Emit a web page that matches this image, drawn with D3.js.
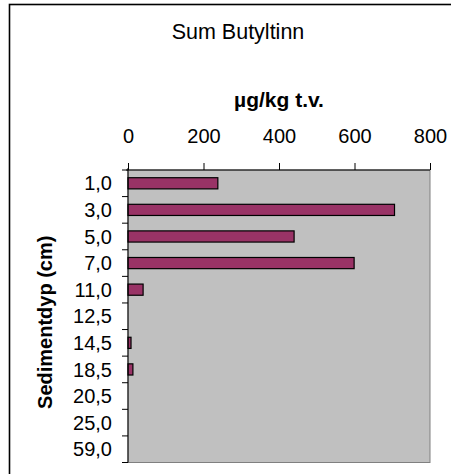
<!DOCTYPE html>
<html>
<head>
<meta charset="utf-8">
<script src="https://cdn.jsdelivr.net/npm/d3@7"></script>
<style>
  body { margin: 0; background: #fff; }
  text { font-family: "Liberation Sans", Arial, sans-serif; fill: #000; }
</style>
</head>
<body>
<script>
// depth labels (cm) and sum of butyltin values (µg/kg dry weight)
var depths = ["1,0", "3,0", "5,0", "7,0", "11,0", "12,5", "14,5", "18,5", "20,5", "25,0", "59,0"];
var values = [238, 706, 440, 599, 40, 0, 8, 13, 0, 0, 0];
var xTicks = [0, 200, 400, 600, 800];

var width = 451,
    height = 474;

var svg = d3.select("body").append("svg")
    .attr("width", width)
    .attr("height", height);

// chart frame (right and bottom run past the picture)
svg.append("rect")
    .attr("x", 9.5)
    .attr("y", 4.5)
    .attr("width", 458)
    .attr("height", 480)
    .attr("fill", "#fff")
    .attr("stroke", "#000")
    .attr("stroke-width", 1.6);

var plot = {left: 128, right: 430, top: 170, bottom: 462.5};

var x = d3.scaleLinear()
    .domain([0, 800])
    .range([plot.left, plot.right]);

var y = d3.scaleBand()
    .domain(depths)
    .range([plot.top, plot.bottom])
    .paddingInner(0.58)
    .paddingOuter(0.29);

// plot area
svg.append("rect")
    .attr("x", plot.left)
    .attr("y", plot.top)
    .attr("width", plot.right - plot.left)
    .attr("height", plot.bottom - plot.top)
    .attr("fill", "#c0c0c0")
    .attr("stroke", "#808080")
    .attr("stroke-width", 1);

// bars
svg.append("g")
    .selectAll("rect")
    .data(values)
    .enter()
    .append("rect")
    .attr("x", x(0))
    .attr("y", function(d, i) { return y(depths[i]); })
    .attr("width", function(d) { return x(d) - x(0); })
    .attr("height", y.bandwidth())
    .attr("fill", "#993366")
    .attr("stroke", function(d) { return d > 0 ? "#000" : "none"; })
    .attr("stroke-width", 1.2);

// top axis
var xAxis = svg.append("g")
    .attr("transform", "translate(0," + plot.top + ")")
    .call(d3.axisTop(x).tickValues(xTicks).tickSize(7).tickPadding(20).tickSizeOuter(0));
xAxis.select(".domain").attr("stroke", "#000").attr("d", "M" + (plot.left - 2) + ",0H" + plot.right);
xAxis.selectAll("text").style("font-size", "20px").attr("font-family", null);

// left axis, ticks between categories
var boundaries = depths.map(function(d) { return y(d) - y.step() * y.paddingInner() / 2; });
boundaries.push(plot.bottom);
var yAxis = svg.append("g");
yAxis.append("line")
    .attr("x1", plot.left).attr("x2", plot.left)
    .attr("y1", plot.top - 2).attr("y2", plot.bottom)
    .attr("stroke", "#000");
yAxis.selectAll(".tick")
    .data(boundaries)
    .enter()
    .append("line")
    .attr("x1", plot.left - 6).attr("x2", plot.left)
    .attr("y1", function(d) { return d; })
    .attr("y2", function(d) { return d; })
    .attr("stroke", "#000");
yAxis.selectAll(".label")
    .data(depths)
    .enter()
    .append("text")
    .attr("x", 112)
    .attr("y", function(d) { return y(d) + y.bandwidth() / 2; })
    .attr("dy", "0.36em")
    .attr("text-anchor", "end")
    .style("font-size", "20px")
    .text(function(d) { return d; });

// titles
svg.append("text")
    .attr("x", 238)
    .attr("y", 39)
    .attr("text-anchor", "middle")
    .style("font-size", "21.5px")
    .text("Sum Butyltinn");

svg.append("text")
    .attr("x", (plot.left + plot.right) / 2)
    .attr("y", 107)
    .attr("text-anchor", "middle")
    .style("font-size", "21px")
    .style("font-weight", "bold")
    .text("µg/kg t.v.");

svg.append("text")
    .attr("transform", "translate(52," + ((plot.top + plot.bottom) / 2 + 6) + ") rotate(-90)")
    .attr("text-anchor", "middle")
    .style("font-size", "20px")
    .style("font-weight", "bold")
    .text("Sedimentdyp (cm)");
</script>
</body>
</html>
